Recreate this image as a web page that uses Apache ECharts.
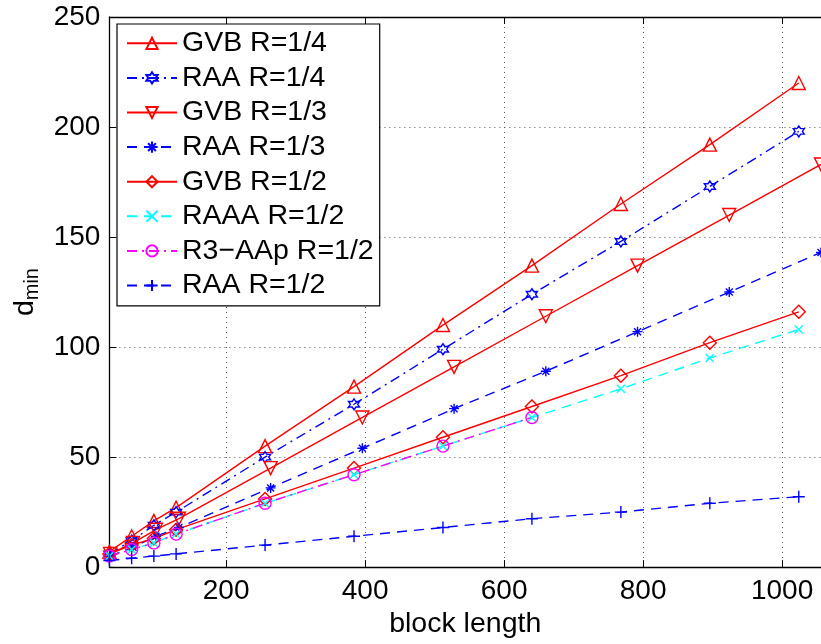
<!DOCTYPE html>
<html>
<head>
<meta charset="utf-8">
<script src="https://cdn.jsdelivr.net/npm/echarts@6/dist/echarts.min.js"></script>
<style>
html,body{margin:0;padding:0;background:#fff;}
#chart{width:821px;height:644px;}
</style>
</head>
<body>
<div id="chart"></div>
<script>
// ---- data ----
const nPow = [32, 64, 96, 128, 256, 384, 512, 640, 768, 896, 1024];
const nThird = [33, 66, 99, 132, 264, 396, 528, 660, 792, 924, 1056];
const nR3 = [32, 64, 96, 128, 256, 384, 512, 640];

const gvb14 = [7, 14, 21, 27, 55, 82, 110, 137, 165, 192, 220];
const raa14 = [6, 12, 19, 25, 50, 74, 99, 124, 148, 173, 198];
const gvb13 = [6, 11, 17, 22, 45, 68, 91, 114, 137, 160, 183];
const raa13 = [5, 9, 14, 18, 36, 54, 72, 89, 107, 125, 143];
const gvb12 = [6, 10, 13, 17, 31, 45, 59, 73, 87, 102, 116];
const raaa12 = [5, 8, 11, 15, 29, 42, 55, 68, 81, 95, 108];
const r3aap12 = [5, 8, 11, 15, 29, 42, 55, 68];
const raa12 = [3, 4, 5, 6, 10, 14, 18, 22, 25, 29, 32];

const seriesNames = ['GVB R=1/4', 'RAA R=1/4', 'GVB R=1/3', 'RAA R=1/3', 'GVB R=1/2', 'RAAA R=1/2', 'R3\u2212AAp R=1/2', 'RAA R=1/2'];
const xTicks = [200, 400, 600, 800, 1000];

// ---- styling ----
const FONT = "'Liberation Sans', Arial, sans-serif";
const RED = '#ff0000', BLUE = '#0000ff', CYAN = '#00ffff', MAG = '#ff00ff';
const DASH = [10, 7];
const DASHDOT = [10, 5, 2, 5];
const HEXAGRAM = 'path://M0,-1L0.289,-0.5L0.866,-0.5L0.577,0L0.866,0.5L0.289,0.5L0,1L-0.289,0.5L-0.866,0.5L-0.577,0L-0.866,-0.5L-0.289,-0.5Z';
const ASTER = 'path://M0,-1L0,1M-1,0L1,0M-0.7,-0.7L0.7,0.7M-0.7,0.7L0.7,-0.7';
const XMARK = 'path://M-1,-1L1,1M-1,1L1,-1';
const PLUS = 'path://M0,-1L0,1M-1,0L1,0';

function pairs(xs, ys) { return ys.map((y, i) => [xs[i], y]); }

function mk(name, xs, ys, color, dash, symbol, size, rotate) {
  return {
    name: name,
    type: 'line',
    data: pairs(xs, ys),
    symbol: symbol,
    symbolSize: size,
    symbolRotate: rotate || 0,
    showSymbol: true,
    lineStyle: { color: color, width: 1.4, type: dash },
    itemStyle: { color: 'transparent', borderColor: color, borderWidth: 1.4 },
    emphasis: { disabled: true },
    z: 3
  };
}

const series = [
  mk(seriesNames[0], nPow, gvb14, RED, 'solid', 'triangle', 13),
  mk(seriesNames[1], nPow, raa14, BLUE, DASHDOT, HEXAGRAM, 11),
  mk(seriesNames[2], nThird, gvb13, RED, 'solid', 'triangle', 13, 180),
  mk(seriesNames[3], nThird, raa13, BLUE, DASH, ASTER, 10),
  mk(seriesNames[4], nPow, gvb12, RED, 'solid', 'diamond', 13),
  mk(seriesNames[5], nPow, raaa12, CYAN, DASH, XMARK, 8),
  mk(seriesNames[6], nR3, r3aap12, MAG, DASHDOT, 'circle', 12),
  mk(seriesNames[7], nPow, raa12, BLUE, DASH, PLUS, 12)
];

const chart = echarts.init(document.getElementById('chart'), null, { renderer: 'canvas' });
chart.setOption({
  animation: false,
  backgroundColor: '#fff',
  textStyle: { fontFamily: FONT },
  grid: { left: 109.4, right: -3.4, top: 17, bottom: 64, containLabel: false },
  legend: {
    orient: 'vertical',
    left: 117,
    top: 24,
    data: seriesNames,
    itemWidth: 50,
    itemHeight: 14,
    itemGap: 0,
    padding: [2, 6, 3, 9],
    backgroundColor: '#fff',
    borderColor: '#000',
    borderWidth: 1.2,
    textStyle: { fontFamily: FONT, fontSize: 28.5, color: '#000', lineHeight: 34.6 },
    selectedMode: false
  },
  xAxis: [{
    type: 'value',
    min: 32,
    max: 1056,
    position: 'bottom',
    name: 'block length',
    nameLocation: 'middle',
    nameGap: 40,
    nameTextStyle: { fontFamily: FONT, fontSize: 28.5, color: '#000' },
    axisLine: { show: true, onZero: false, lineStyle: { color: '#000', width: 1.3 } },
    axisTick: { show: true, inside: true, length: 7, customValues: xTicks, lineStyle: { color: '#000', width: 1 } },
    axisLabel: { show: true, customValues: xTicks, margin: 10, fontFamily: FONT, fontSize: 28, color: '#000', formatter: v => String(v) },
    splitLine: { show: true, lineStyle: { color: '#555', width: 1, type: [1, 4] } }
  }, {
    type: 'value',
    min: 32,
    max: 1056,
    position: 'top',
    axisLine: { show: true, onZero: false, lineStyle: { color: '#000', width: 1.3 } },
    axisTick: { show: true, inside: true, length: 7, customValues: xTicks, lineStyle: { color: '#000', width: 1 } },
    axisLabel: { show: false },
    splitLine: { show: false }
  }],
  yAxis: [{
    type: 'value',
    min: 0,
    max: 250,
    interval: 50,
    position: 'left',
    name: '{d|d}{s|min}',
    nameLocation: 'middle',
    nameRotate: 90,
    nameGap: 69,
    nameTextStyle: {
      color: '#000',
      rich: {
        d: { fontFamily: FONT, fontSize: 28.5, color: '#000', verticalAlign: 'top', lineHeight: 30 },
        s: { fontFamily: FONT, fontSize: 20, color: '#000', verticalAlign: 'top', lineHeight: 22, padding: [12, 0, 0, 0] }
      }
    },
    axisLine: { show: true, onZero: false, lineStyle: { color: '#000', width: 1.3 } },
    axisTick: { show: true, inside: true, length: 7, lineStyle: { color: '#000', width: 1 } },
    axisLabel: { show: true, margin: 9, fontFamily: FONT, fontSize: 28, color: '#000' },
    splitLine: { show: true, lineStyle: { color: '#555', width: 1, type: [1, 4] } }
  }],
  series: series
});
</script>
</body>
</html>
